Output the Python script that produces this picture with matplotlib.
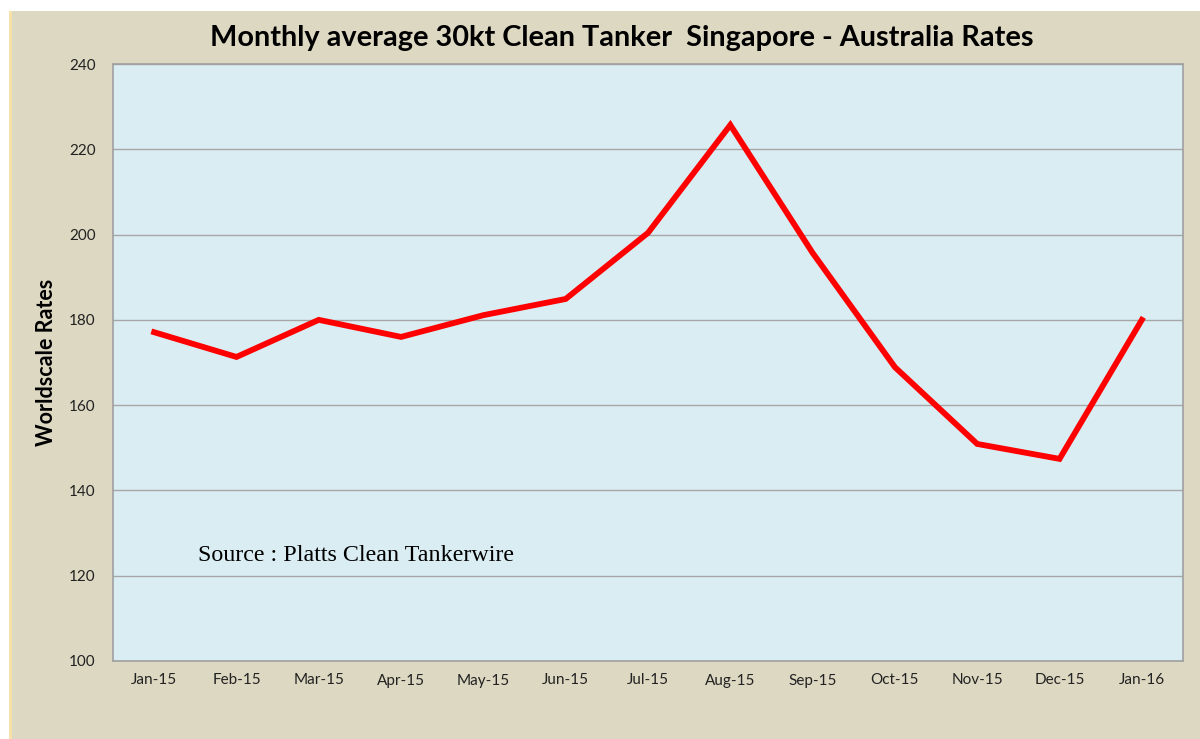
import matplotlib.pyplot as plt
from matplotlib.patches import Rectangle

months = ["Jan-15", "Feb-15", "Mar-15", "Apr-15", "May-15", "Jun-15", "Jul-15",
          "Aug-15", "Sep-15", "Oct-15", "Nov-15", "Dec-15", "Jan-16"]
rates = [177.1, 171.3, 180.0, 176.0, 181.1, 184.9, 200.4,
         225.7, 195.7, 168.9, 150.9, 147.4, 180.0]
yticks = [100, 120, 140, 160, 180, 200, 220, 240]

plt.rcParams['font.family'] = ['Lato', 'DejaVu Sans']

fig = plt.figure(figsize=(12, 7.39), dpi=100, facecolor="white")

# tan chart background with a thin yellowish left edge
fig.patches.append(Rectangle((9 / 1200, 0), 1 - 9 / 1200, 1 - 11 / 739,
                             transform=fig.transFigure, facecolor="#DDD8C2",
                             edgecolor="none", zorder=-10))
fig.patches.append(Rectangle((9 / 1200, 0), 3 / 1200, 1 - 11 / 739,
                             transform=fig.transFigure, facecolor="#F6E2A8",
                             edgecolor="none", zorder=-9))

ax = fig.add_axes([113 / 1200, 78 / 739, 1070 / 1200, 597 / 739])
ax.set_facecolor("#DAEDF3")

x = range(len(months))
ax.plot(x, rates, color="#FF0000", lw=4.2, solid_joinstyle="miter", zorder=3)

ax.set_xlim(-0.5, len(months) - 0.5)
ax.set_ylim(100, 240)
ax.set_yticks(yticks)
ax.set_xticks(list(x))
ax.set_xticklabels(months)
ax.tick_params(axis="both", length=0, labelsize=11, colors="#222222")
ax.tick_params(axis="y", pad=12.5)
ax.tick_params(axis="x", pad=9)
ax.grid(axis="y", color="#A6A6A6", lw=1)
ax.set_axisbelow(True)
for s in ax.spines.values():
    s.set_color("#A0A0A0")
    s.set_linewidth(1.2)

ax.set_ylabel("Worldscale Rates", fontsize=15.5, fontweight="bold", labelpad=9)
fig.text(0.518, 0.948, "Monthly average 30kt Clean Tanker  Singapore - Australia Rates",
         ha="center", va="center", fontsize=20.8, fontweight="bold")
ax.text(0.079, 0.176, "Source : Platts Clean Tankerwire", transform=ax.transAxes,
        fontsize=17.3, family="Liberation Serif", va="center")

fig.savefig("out.png", dpi=100, facecolor=fig.get_facecolor())
